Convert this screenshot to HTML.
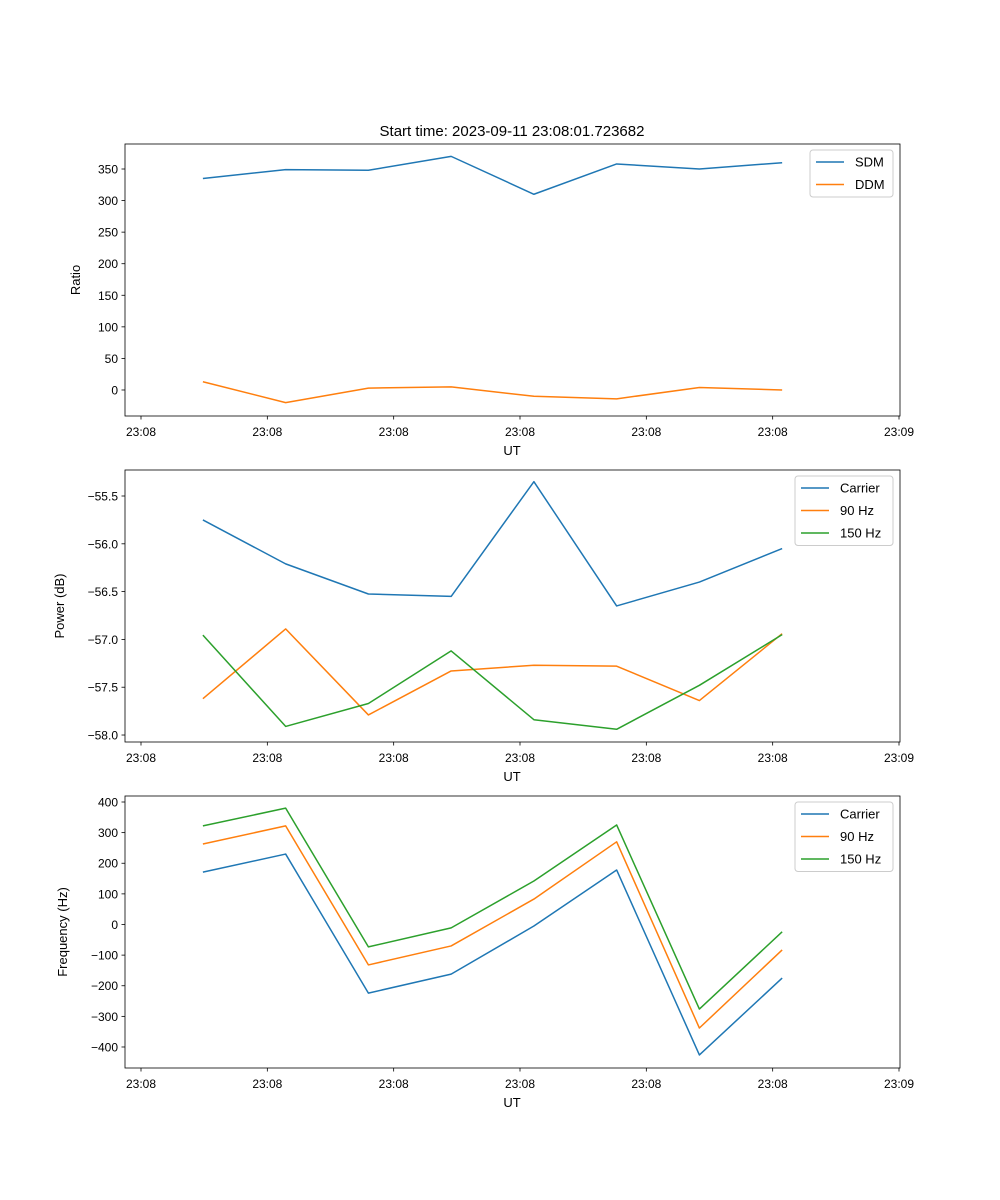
<!DOCTYPE html>
<html><head><meta charset="utf-8"><style>
html,body{margin:0;padding:0;background:#fff;}
svg{display:block;font-family:"Liberation Sans","DejaVu Sans",sans-serif;}
</style></head><body>
<svg id="fig" width="1000" height="1200" viewBox="0 0 1000 1200" xmlns="http://www.w3.org/2000/svg">
<rect width="1000" height="1200" fill="#fff"/>
<text x="512" y="136" font-size="15" text-anchor="middle">Start time: 2023-09-11 23:08:01.723682</text>
</svg>
<script>
const times = [4.9, 11.45, 18.0, 24.55, 31.1, 37.65, 44.2, 50.75];
const xTicks = [0, 10, 20, 30, 40, 50, 60];
const xTickLabels = ["23:08","23:08","23:08","23:08","23:08","23:08","23:09"];
const sdm = [335, 349, 348, 370, 310, 358, 350, 360];
const ddm = [13, -20, 3, 5, -10, -14, 4, 0];
const ratioTicks = [0, 50, 100, 150, 200, 250, 300, 350];
const powCarrier = [-55.75, -56.21, -56.525, -56.55, -55.35, -56.65, -56.40, -56.05];
const pow90 = [-57.62, -56.89, -57.79, -57.33, -57.27, -57.28, -57.64, -56.94];
const pow150 = [-56.955, -57.91, -57.67, -57.12, -57.84, -57.94, -57.48, -56.95];
const powTicks = [-58.0, -57.5, -57.0, -56.5, -56.0, -55.5];
const freqCarrier = [171, 230, -224, -162, -5, 178, -426, -175];
const freq90 = [263, 322, -132, -70, 83, 270, -338, -83];
const freq150 = [322, 380, -73, -11, 142, 325, -276, -24];
const freqTicks = [-400, -300, -200, -100, 0, 100, 200, 300, 400];

const NS = "http://www.w3.org/2000/svg";
const svg = document.getElementById('fig');
const L = 125, R = 900;
function xs(t){ return 141 + t * (899 - 141) / 60; }
function mk(tag, attrs, parent){
  const e = document.createElementNS(NS, tag);
  for (const k in attrs) e.setAttribute(k, attrs[k]);
  (parent || svg).appendChild(e);
  return e;
}
function panel(cfg){
  const g = mk('g', {});
  
  
  const T = cfg.top, B = cfg.top + 272;
  const ys = v => B - (v - cfg.ymin) * (B - T) / (cfg.ymax - cfg.ymin);
  cfg.series.forEach(s => {
    const d = times.map((t, i) => (i ? 'L' : 'M') + xs(t).toFixed(2) + ',' + ys(s.vals[i]).toFixed(2)).join(' ');
    const p = mk('path', {d: d, fill: 'none', stroke: s.color, 'stroke-width': 1.5, 'stroke-linejoin': 'round'}, g);
    
    
  });
  const fr = mk('rect', {x: L, y: T, width: R - L, height: B - T, fill: 'none', stroke: '#000', 'stroke-width': 0.8}, g);
  
  
  xTicks.forEach((t, i) => {
    const x = xs(t);
    mk('line', {x1: x, x2: x, y1: B, y2: B + 3.5, stroke: '#000', 'stroke-width': 0.8}, g);
    const tx = mk('text', {x: x, y: B + 20, 'font-size': 12, 'text-anchor': 'middle'}, g);
    tx.textContent = xTickLabels[i];
    
    
  });
  const xl = mk('text', {x: 512, y: B + 39, 'font-size': 13, 'text-anchor': 'middle'}, g);
  xl.textContent = 'UT';
  
  
  cfg.ticks.forEach(v => {
    const y = ys(v);
    mk('line', {x1: L - 3.5, x2: L, y1: y, y2: y, stroke: '#000', 'stroke-width': 0.8}, g);
    const tx = mk('text', {x: L - 7, y: y + 4.5, 'font-size': 12, 'text-anchor': 'end'}, g);
    tx.textContent = cfg.fmt(v);
    
    
  });
  const yl = mk('text', {x: 0, y: 0, 'font-size': 13, 'text-anchor': 'middle', transform: 'translate(' + cfg.ylx + ',' + ((T + B) / 2) + ') rotate(-90)'}, g);
  yl.textContent = cfg.ylabel;
  
  
  const lg = mk('g', {}, g);
  
  
  const lx = cfg.legX, ly = T + 6, lw = 893 - cfg.legX, lh = cfg.series.length * 22.5 + 2;
  mk('rect', {x: lx, y: ly, width: lw, height: lh, rx: 3, fill: '#fff', 'fill-opacity': 0.8, stroke: '#ccc', 'stroke-width': 1}, lg);
  cfg.series.forEach((s, i) => {
    const yy = ly + 12 + i * 22.5;
    const en = mk('g', {}, lg);
    
    
    mk('line', {x1: lx + 6, x2: lx + 34, y1: yy, y2: yy, stroke: s.color, 'stroke-width': 1.5}, en);
    const tx = mk('text', {x: lx + 45, y: yy + 4.5, 'font-size': 13}, en);
    tx.textContent = s.label;
  });
}
const C0 = '#1f77b4', C1 = '#ff7f0e', C2 = '#2ca02c';
panel({name: 'ratio-panel', top: 144, ymin: -41.2, ymax: 389.6, ticks: ratioTicks, fmt: v => String(v), ylabel: 'Ratio', ylx: 80, legX: 810,
  series: [{id: 'sdm-line', label: 'SDM', color: C0, vals: sdm}, {id: 'ddm-line', label: 'DDM', color: C1, vals: ddm}]});
panel({name: 'power-panel', top: 470, ymin: -58.073, ymax: -55.228, ticks: powTicks, fmt: v => v.toFixed(1).replace('-', '\u2212'), ylabel: 'Power (dB)', ylx: 64, legX: 795,
  series: [{id: 'power-carrier-line', label: 'Carrier', color: C0, vals: powCarrier}, {id: 'power-90hz-line', label: '90 Hz', color: C1, vals: pow90}, {id: 'power-150hz-line', label: '150 Hz', color: C2, vals: pow150}]});
panel({name: 'frequency-panel', top: 796, ymin: -468.6, ymax: 419.6, ticks: freqTicks, fmt: v => String(v).replace('-', '\u2212'), ylabel: 'Frequency (Hz)', ylx: 67, legX: 795,
  series: [{id: 'freq-carrier-line', label: 'Carrier', color: C0, vals: freqCarrier}, {id: 'freq-90hz-line', label: '90 Hz', color: C1, vals: freq90}, {id: 'freq-150hz-line', label: '150 Hz', color: C2, vals: freq150}]});
</script>
</body></html>
